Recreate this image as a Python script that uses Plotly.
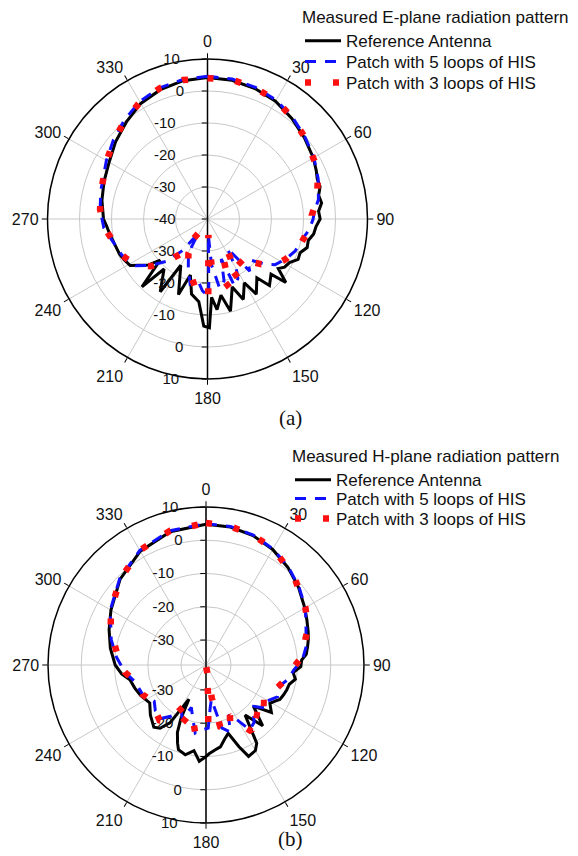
import plotly.graph_objects as go

# ---------------- E-plane data (angle in deg, level in dB) ----------------
e_ref_theta = [0, 10, 20, 30, 40, 50, 60, 66, 70, 74, 78, 82, 86, 90, 94, 98, 102, 106, 110, 114, 118, 122, 125,
               129, 131, 137, 140, 147, 150, 156, 160, 166, 170, 174, 177, 179, 182, 186, 192, 197, 201, 210, 213,
               221, 224, 229, 232, 239, 244, 248, 254, 261, 266, 270, 280, 290, 300, 310, 320, 330, 340, 350, 360]
e_ref_r = [4.2, 4.0, 3.4, 2.5, 1.0, -0.5, -1.8, -2.8, -3.5, -3.4, -4.5, -4.0, -5.2, -4.8, -6.0, -6.5, -7.8, -7.6,
           -9.2, -9.0, -11.0, -11.6, -13.0, -8.5, -13.7, -11.6, -16.0, -12.0, -17.0, -12.5, -17.4, -10.3, -15.8,
           -11.5, -15.5, -6.0, -6.5, -14.0, -16.0, -21.7, -14.7, -23.3, -12.9, -19.3, -10.5, -20.4, -16.7, -11.8,
           -11.0, -10.4, -10.0, -9.1, -8.4, -7.5, -6.5, -5.6, -4.5, -2.5, -0.5, 1.7, 3.0, 3.9, 4.2]

e_5l_theta = [0, 10, 20, 30, 40, 50, 60, 70, 80, 86, 90, 96, 104, 110, 117, 124, 128, 133, 137, 141, 146, 150, 153,
              158, 161, 165, 170, 175, 177, 179, 184, 189, 195, 202, 209, 213, 218, 224, 231, 237, 247, 256, 265,
              275, 285, 300, 310, 320, 330, 340, 350, 360]
e_5l_r = [4.6, 4.4, 3.8, 2.9, 1.4, -0.2, -1.6, -3.2, -4.8, -6.5, -7.0, -8.0, -10.2, -10.8, -12.5, -14.5, -17.0,
          -21.0, -21.5, -19.0, -29.0, -22.0, -19.1, -17.5, -26.8, -20.0, -18.0, -25.6, -35.0, -15.7, -17.5, -20.6,
          -19.0, -24.0, -27.7, -34.7, -27.7, -21.6, -17.0, -13.2, -11.0, -9.7, -7.5, -6.3, -5.5, -3.5, -1.6, 0.4,
          2.4, 3.6, 4.3, 4.6]

e_3l_theta = [0, 10, 20, 30, 40, 50, 62, 70, 80, 88, 92, 100, 109, 117, 124, 130, 136, 142, 147, 152.6, 158, 162,
              168, 175, 177, 179.4, 188.5, 195, 202, 209, 213, 218, 223.7, 230, 237.6, 247, 256.5, 266, 275, 285,
              300, 310, 320, 330, 340, 350, 360]
e_3l_r = [4.0, 4.2, 3.6, 2.8, 1.3, -0.3, -2.0, -3.3, -5.3, -7.4, -7.4, -9.0, -10.5, -12.5, -14.5, -18.0, -21.6,
          -20.0, -29.0, -19.1, -26.8, -17.2, -22.0, -25.6, -35.0, -15.7, -17.0, -21.0, -23.9, -27.7, -34.7, -26.0,
          -21.6, -17.0, -13.2, -11.0, -9.7, -7.5, -6.3, -5.6, -3.6, -1.8, 0.2, 2.2, 3.5, 4.1, 4.0]

# ---------------- H-plane data ----------------
h_ref_theta = [0, 10, 20, 30, 40, 50, 60, 66, 72, 76, 80, 84, 87, 91, 95, 99, 103, 107, 111, 115, 118, 121, 126,
               131, 137, 142, 147, 150, 155, 158, 162, 166, 170, 174, 178, 180, 184, 188, 193, 198, 200, 203, 205,
               206.5, 209, 212, 216, 220, 228, 236, 245, 252, 259, 264, 270, 280, 290, 300, 315, 330, 345, 360]
h_ref_r = [4.8, 4.6, 3.9, 2.6, 0.8, -1.2, -3.2, -4.3, -5.2, -5.8, -6.5, -7.2, -8.7, -9.0, -11.2, -10.3, -11.8,
           -12.1, -12.5, -13.0, -14.2, -15.1, -13.2, -18.6, -12.5, -18.4, -9.5, -7.8, -7.2, -11.0, -15.9, -14.5,
           -12.5, -11.8, -10.8, -10.0, -8.5, -11.5, -9.8, -10.7, -12.5, -15.5, -19.5, -26.0, -23.0, -17.0, -14.0,
           -13.1, -15.0, -17.1, -15.8, -15.0, -14.2, -12.0, -10.2, -8.3, -6.5, -4.5, -1.0, 2.0, 4.0, 4.8]

h_5l_theta = [0, 10, 20, 30, 40, 50, 60, 70, 80, 87, 93, 100, 108, 114, 120, 126, 131, 136, 140, 146, 151, 156,
              160, 166, 171, 174, 178, 183, 189, 194, 199, 204, 209, 214, 220, 228, 235, 245, 257, 265, 275, 285,
              300, 315, 330, 345, 360]
h_5l_r = [5.0, 4.8, 4.1, 2.8, 1.0, -1.0, -3.0, -5.5, -7.0, -8.5, -11.0, -12.5, -15.0, -14.0, -16.0, -15.5, -18.5,
          -17.0, -15.0, -14.0, -19.0, -21.0, -16.0, -18.0, -27.0, -25.0, -18.5, -18.0, -16.8, -21.0, -24.0, -20.0,
          -22.0, -19.0, -16.5, -17.0, -18.5, -16.5, -15.5, -13.0, -10.5, -8.0, -4.3, -0.8, 2.3, 4.3, 5.0]

h_3l_theta = [0, 10, 20, 30, 45, 60, 70, 75, 85, 92, 100, 110, 116, 122, 128, 133, 138, 145.5, 150, 154.5, 160,
              167, 170, 174, 176, 178, 182, 189, 197, 203, 208.6, 214, 220, 228, 235.5, 245, 257, 265, 277.5, 290,
              300, 315, 330, 345, 360]
h_3l_r = [5.2, 4.8, 4.0, 2.9, 0.0, -3.0, -4.8, -6.5, -8.5, -11.3, -13.0, -15.5, -14.5, -15.9, -19.0, -15.0, -17.9,
          -13.2, -17.0, -20.8, -16.0, -18.4, -27.4, -37.0, -27.4, -18.3, -18.0, -16.8, -22.8, -18.0, -23.2, -17.0,
          -15.8, -17.0, -18.0, -16.5, -15.6, -13.0, -10.5, -7.0, -4.5, -1.0, 2.3, 4.3, 5.2]

series_names = ["Reference Antenna", "Patch with 5 loops of HIS", "Patch with 3 loops of HIS"]
angle_tickvals = [0, 30, 60, 90, 120, 150, 180, 210, 240, 270, 300, 330]
e_radial_ticks = [-40, -30, -20, -10, 0, 10]
e_radial_ticks_down = [-30, -20, -10, 0, 10]
h_radial_ticks = [-30, -20, -10, 0, 10]

FONT = "Liberation Sans, Arial, sans-serif"
RFS = 15  # radial tick font size
styles = [dict(color="black", width=3, dash="solid"),
          dict(color="#1010ff", width=3, dash="11px,9px"),
          dict(color="#ff1010", width=6.5, dash="6px,22px")]

W, H = 578, 856


def padded(vals):
    """tick texts padded with trailing no-break spaces so the centred label sits left of the axis"""
    out = []
    for v in vals:
        s = str(v)
        w = sum(0.333 if ch == "-" else 0.556 for ch in s) * RFS
        n = max(1, round((w / 2 + 4) / 3.26))
        out.append(s + "\u00a0" * n)
    return out


fig = go.Figure()

e_sets = [(e_ref_theta, e_ref_r), (e_5l_theta, e_5l_r), (e_3l_theta, e_3l_r)]
h_sets = [(h_ref_theta, h_ref_r), (h_5l_theta, h_5l_r), (h_3l_theta, h_3l_r)]
e_subplots = ["polar", "polar2", "polar2"]
h_subplots = ["polar3", "polar4", "polar4"]
e_legends = ["legend", "legend3", "legend5"]
h_legends = ["legend2", "legend4", "legend6"]
for (th, rr), nm, st, sp, lg in zip(e_sets, series_names, styles, e_subplots, e_legends):
    fig.add_trace(go.Scatterpolar(theta=th, r=rr, mode="lines", name=nm, line=st, subplot=sp, legend=lg,
                                  showlegend=True))
for (th, rr), nm, st, sp, lg in zip(h_sets, series_names, styles, h_subplots, h_legends):
    fig.add_trace(go.Scatterpolar(theta=th, r=rr, mode="lines", name=nm, line=st, subplot=sp, legend=lg,
                                  showlegend=True))


def dom(cx, cy, R):
    return dict(x=[(cx - R) / W, (cx + R) / W], y=[(H - cy - R) / H, (H - cy + R) / H])


def base_polar(d, rng, ticks):
    return dict(
        domain=d, bgcolor="white",
        angularaxis=dict(rotation=90, direction="clockwise", tickmode="array", tickvals=angle_tickvals,
                         showline=True, linecolor="black", linewidth=1.5, ticks="outside", ticklen=5,
                         tickcolor="black", gridcolor="#c8c8c8", gridwidth=1,
                         tickfont=dict(family=FONT, size=16, color="#111")),
        radialaxis=dict(range=rng, angle=90, side="counterclockwise", tickmode="array", tickvals=ticks,
                        ticktext=padded(ticks),
                        showline=True, linecolor="black", linewidth=1.5, ticks="outside", ticklen=5,
                        tickcolor="black", gridcolor="#c8c8c8", gridwidth=1, tickangle=90,
                        tickfont=dict(family=FONT, size=RFS, color="#111")))


def overlay_polar(d, rng, ticks):
    return dict(
        domain=d, bgcolor="rgba(0,0,0,0)",
        angularaxis=dict(rotation=90, direction="clockwise", showline=False, showgrid=False,
                         showticklabels=False, ticks=""),
        radialaxis=dict(range=rng, angle=270, side="clockwise", tickmode="array", tickvals=ticks,
                        ticktext=padded(ticks),
                        showline=True, linecolor="black", linewidth=1.5, ticks="outside", ticklen=5,
                        tickcolor="black", showgrid=False, tickangle=-90, layer="below traces",
                        tickfont=dict(family=FONT, size=RFS, color="#111")))


e_dom = dom(207.5, 219, 160)
h_dom = dom(206, 665, 158)
e_rng = [-40, 10]
h_rng = [-37.5, 10]


def legend_box(top_px, left_px, title=None):
    d = dict(x=left_px / W, y=1 - top_px / H, xanchor="left", yanchor="top", bgcolor="rgba(0,0,0,0)",
             font=dict(family=FONT, size=17, color="#111"), tracegroupgap=0, itemwidth=36, visible=True)
    if title:
        d["title"] = dict(text=title, font=dict(family=FONT, size=17, color="#111"))
    return d


fig.update_layout(
    width=W, height=H, margin=dict(l=0, r=0, t=0, b=0), showlegend=True,
    paper_bgcolor="white", font=dict(family=FONT, color="#111"),
    polar=base_polar(e_dom, e_rng, e_radial_ticks),
    polar2=overlay_polar(e_dom, e_rng, e_radial_ticks_down),
    polar3=base_polar(h_dom, h_rng, h_radial_ticks),
    polar4=overlay_polar(h_dom, h_rng, h_radial_ticks),
    legend=legend_box(1, 300, "Measured E-plane radiation pattern"),
    legend3=legend_box(44, 300),
    legend5=legend_box(65, 300),
    legend2=legend_box(440, 290, "Measured H-plane radiation pattern"),
    legend4=legend_box(481, 290),
    legend6=legend_box(501, 290),
    annotations=[
        dict(text="(a)", x=290 / W, y=1 - 418 / H, xref="paper", yref="paper", showarrow=False,
             font=dict(family="Liberation Serif, DejaVu Serif, serif", size=21, color="#111")),
        dict(text="(b)", x=290 / W, y=1 - 853 / H, xref="paper", yref="paper", showarrow=False,
             font=dict(family="Liberation Serif, DejaVu Serif, serif", size=21, color="#111")),
    ],
)

fig.write_html("out.html")
